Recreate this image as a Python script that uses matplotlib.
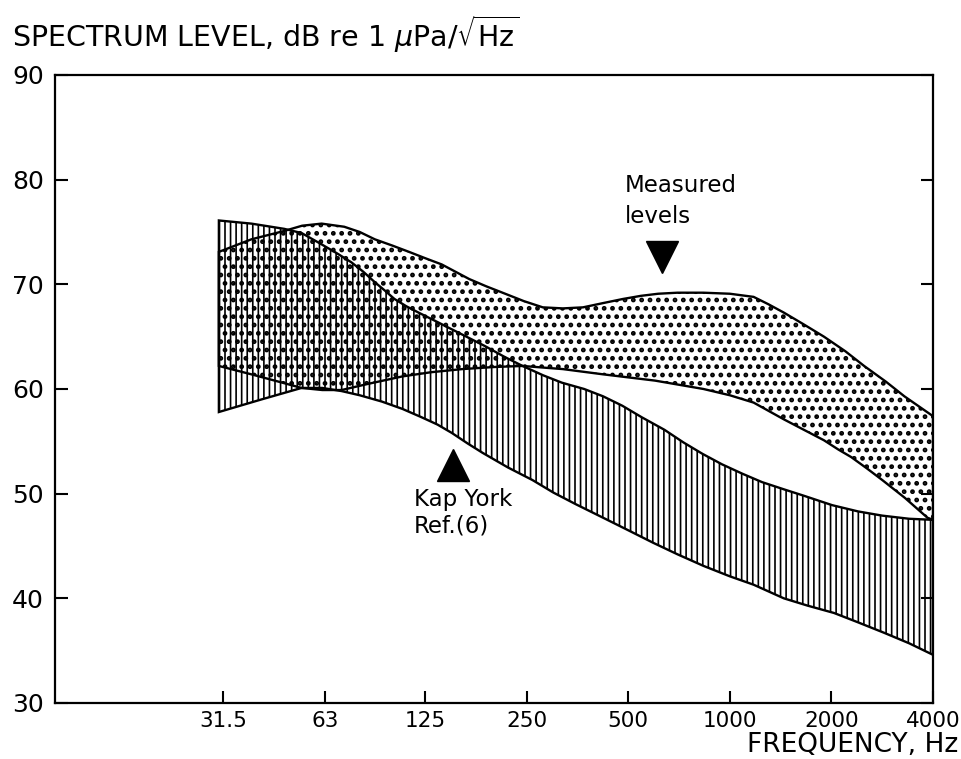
import numpy as np
import matplotlib
matplotlib.use("Agg")
import matplotlib.pyplot as plt

# curvas (frecuencia en Hz, nivel en dB)
# Kap York, Ref.(6) - banda rayada vertical
ky_sup_f = [30.6, 38.2, 47.8, 53.8, 60.3, 68.2, 75.6, 82, 88.7, 95, 101.4, 110, 119.5, 134, 150, 168, 188, 214, 243, 280, 318, 370, 421, 480, 548, 640, 728, 830, 948, 1090, 1246, 1450, 1657, 2010, 2400, 2829, 3400, 4000]
ky_sup_db = [76.1, 75.8, 75.3, 74.9, 74.0, 73.0, 72.1, 71.2, 70.2, 69.4, 68.6, 67.9, 67.3, 66.5, 65.7, 64.9, 64.1, 63.1, 62.2, 61.3, 60.6, 60.0, 59.3, 58.4, 57.3, 56.1, 54.9, 53.8, 52.8, 51.9, 51.1, 50.4, 49.8, 48.9, 48.3, 47.9, 47.6, 47.5]
ky_inf_f = [30.6, 40.9, 53.8, 62, 70.7, 80, 93, 107, 122, 136, 150, 167, 185, 220, 260, 300, 349, 421, 500, 593, 700, 835, 1000, 1176, 1445, 1700, 2035, 2400, 2868, 3400, 4000]
ky_inf_db = [57.8, 59.0, 60.1, 60.1, 59.8, 59.4, 58.8, 58.1, 57.3, 56.6, 55.8, 54.8, 53.9, 52.5, 51.3, 50.1, 49.0, 47.7, 46.5, 45.3, 44.2, 43.1, 42.1, 41.3, 40.0, 39.3, 38.6, 37.7, 36.7, 35.7, 34.6]

# niveles medidos - banda punteada
med_sup_f = [30.6, 38.2, 47.8, 54, 61.7, 72, 80, 88.7, 100, 112, 125, 140, 169, 190, 212, 245, 279, 320, 367, 420, 482, 545, 613, 700, 835, 1000, 1176, 1300, 1445, 1650, 1900, 2200, 2500, 2900, 3290, 4000]
med_sup_db = [73.1, 74.3, 75.1, 75.6, 75.8, 75.5, 75.0, 74.3, 73.7, 73.1, 72.5, 71.9, 70.5, 69.8, 69.2, 68.4, 67.8, 67.7, 67.8, 68.2, 68.6, 68.9, 69.1, 69.2, 69.2, 69.1, 68.8, 68.1, 67.3, 66.2, 65.0, 63.6, 62.2, 60.7, 59.3, 57.4]
med_inf_f = [30.6, 38.2, 46, 53.8, 62, 70.7, 85, 107, 130, 161, 200, 243, 320, 421, 600, 835, 1000, 1176, 1445, 1657, 1900, 2100, 2287, 2550, 2829, 3300, 3850, 4000]
med_inf_db = [62.2, 61.4, 60.7, 60.1, 59.9, 59.9, 60.5, 61.2, 61.6, 61.9, 62.1, 62.2, 61.9, 61.4, 60.8, 60.0, 59.4, 58.7, 57.1, 56.1, 55.1, 54.2, 53.5, 52.4, 51.3, 49.6, 47.7, 47.5]

frecuencias = [31.5, 63, 125, 250, 500, 1000, 2000, 4000]
etiquetas_f = ["31.5", "63", "125", "250", "500", "1000", "2000", "4000"]
niveles = [30, 40, 50, 60, 70, 80, 90]

plt.rcParams['font.family'] = ['DejaVu Sans']
plt.rcParams['hatch.linewidth'] = 1.2

fig = plt.figure(figsize=(9.61, 7.59), dpi=100)
ax = fig.add_axes([0.0572, 0.0738, 0.9137, 0.8274])

# banda Kap York
xs = np.concatenate([ky_sup_f, ky_inf_f[::-1]])
ys = np.concatenate([ky_sup_db, ky_inf_db[::-1]])
ky = ax.fill(xs, ys, facecolor='none', edgecolor='black', hatch='|||', lw=1.7, zorder=2)[0]

# banda medida
xs = np.concatenate([med_sup_f, med_inf_f[::-1]])
ys = np.concatenate([med_sup_db, med_inf_db[::-1]])
med = ax.fill(xs, ys, facecolor='none', edgecolor='black', hatch='..', lw=1.7, zorder=3)[0]
if hasattr(med, 'set_hatch_linewidth'):
    med.set_hatch_linewidth(2.2)
    ky.set_hatch_linewidth(1.2)

# flechas (triangulos)
ax.plot([629], [72.6], marker='v', ms=23, color='black', zorder=5)
ax.plot([150.7], [52.7], marker='^', ms=23, color='black', zorder=5)

ax.text(487, 80.5, "Measured\nlevels", fontsize=16.5, ha='left', va='top', linespacing=1.4)
ax.text(116, 50.5, "Kap York\nRef.(6)", fontsize=16.5, ha='left', va='top', linespacing=1.15)

ax.set_xscale('log')
ax.set_xlim(10, 4000)
ax.set_ylim(30, 90)
ax.set_xticks(frecuencias)
ax.set_xticklabels(etiquetas_f)
ax.xaxis.set_minor_locator(matplotlib.ticker.NullLocator())
ax.set_yticks(niveles)

for s in ax.spines.values():
    s.set_linewidth(1.6)

ax.tick_params(axis='both', direction='in', length=9, width=1.5)
ax.tick_params(axis='y', right=True, labelsize=18, pad=8)
ax.tick_params(axis='x', labelsize=15.5, pad=6)

fig.text(0.012, 0.955, r"SPECTRUM LEVEL, dB re 1 $\mu$Pa/$\sqrt{\mathrm{Hz}}$", fontsize=20.5,
         ha='left', va='center')
fig.text(0.997, 0.018, "FREQUENCY, Hz", fontsize=19, ha='right', va='center')

fig.savefig("out.png", dpi=100)
